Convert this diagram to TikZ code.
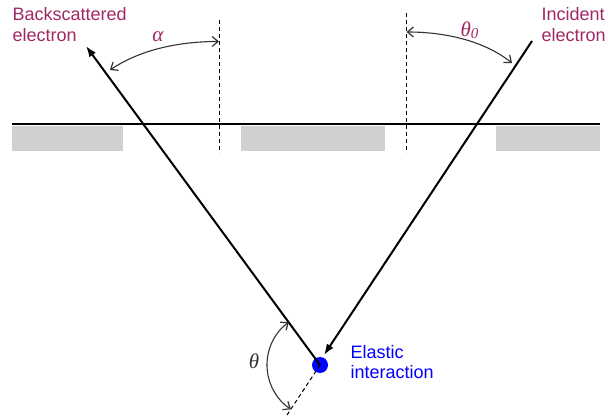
\documentclass[tikz,border=0pt]{standalone}
\usepackage{fontspec}
\setmainfont{Liberation Sans}
\newfontfamily\symfont{Liberation Serif}
\usetikzlibrary{arrows.meta}
\definecolor{labmaroon}{RGB}{160,40,100}
\definecolor{labblue}{RGB}{0,0,255}
\definecolor{shadegray}{RGB}{208,208,208}
\begin{document}
\begin{tikzpicture}[x=1pt,y=-1pt,
  ray/.style={line width=2pt, black},
  guide/.style={line width=1pt, dash pattern=on 4pt off 3pt},
  angarc/.style={line width=1.1pt, black!80, {Straight Barb[length=6pt,width=10pt,line width=1.2pt]}-{Straight Barb[length=6pt,width=10pt,line width=1.2pt]}},
  lbl/.style={font=\fontsize{18}{20.5}\selectfont, inner sep=0pt, align=left},
  sym/.style={font=\symfont\itshape\fontsize{21}{22}\selectfont, inner sep=0pt}]
\useasboundingbox (0,0) rectangle (608,419);
% substrate blocks
\fill[shadegray] (12,126) rectangle (123,151);
\fill[shadegray] (241,126) rectangle (385,151);
\fill[shadegray] (496,126) rectangle (600,151);
% surface
\coordinate (sL) at (12,124);
\coordinate (sR) at (600,124);
\draw[line width=2pt] (sL) -- (sR);
% normals
\coordinate (n1t) at (219,20);
\coordinate (n1b) at (219,153);
\coordinate (n2t) at (406,13);
\coordinate (n2b) at (406,153);
\draw[guide] (n1t) -- (n1b);
\draw[guide] (n2t) -- (n2b);
% interaction point
\node[circle, fill=labblue, minimum size=16pt, inner sep=0pt] (dot) at (320,365) {};
\coordinate (inTop) at (532,41);
\coordinate (inEnd) at (324,355);
\coordinate (bsTip) at (86,46);
\coordinate (ext) at (287,415);
\draw[ray, -{Latex[length=11pt,width=8pt]}] (inTop) -- (inEnd);
\draw[ray, -{Latex[length=11pt,width=8pt]}] (dot.center) -- (bsTip);
\draw[guide] (dot.center) -- (ext);
% angle arcs
\coordinate (a1) at (110,70);
\coordinate (a2) at (219,41.5);
\draw[angarc] (a1) .. controls (143,48) and (183,41.5) .. (a2);
\coordinate (b1) at (406.5,32);
\coordinate (b2) at (512,63);
\draw[angarc] (b1) .. controls (443,32) and (483,40) .. (b2);
\draw[angarc] (dot.center) ++(233.9:53) arc[start angle=233.9, end angle=123.3, radius=53];
% labels
\node[lbl, text=labmaroon, anchor=north west] (bsLabel) at (12.5,7.5) {Backscattered\\electron};
\node[lbl, text=labmaroon, anchor=north west] (inLabel) at (541.5,7.5) {Incident\\electron};
\node[lbl, text=labblue, anchor=north west] (elLabel) at (350.5,345) {Elastic\\interaction};
\node[sym, text=labmaroon] (alphaL) at (158,37) {α};
\node[sym, text=labmaroon] (theta0L) at (469.5,30) {θ\raisebox{-2pt}{\fontsize{15}{15}\selectfont 0}};
\node[sym, text=black!80] (thetaL) at (254,361.5) {θ};
\end{tikzpicture}
\end{document}
